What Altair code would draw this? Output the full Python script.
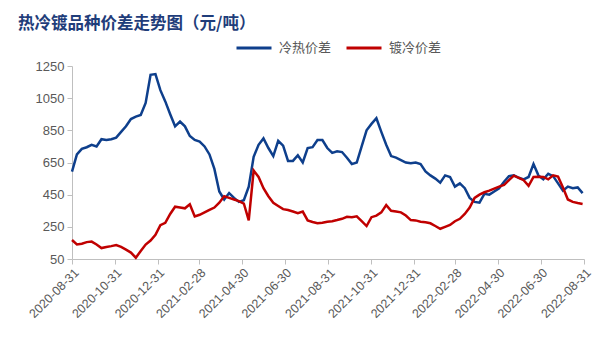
import altair as alt
import pandas as pd

# Weekly observations, 2020-08-31 .. 2022-08-29
start_date = "2020-08-31"
n_weeks = 105

cold_hot = [
    593, 700, 735, 745, 760, 750, 795, 790, 795, 805,
    840, 875, 920, 935, 945, 1020, 1195, 1200, 1100, 1030,
    950, 875, 905, 875, 815, 790, 780, 750, 700, 610,
    470, 420, 460, 430, 405, 415, 500, 685, 760, 800,
    740, 690, 785, 755, 660, 660, 695, 650, 740, 745,
    790, 790, 740, 710, 720, 715, 680, 640, 650, 750,
    850, 890, 925, 840, 760, 690, 680, 665, 650, 645,
    650, 640, 595, 570, 550, 525, 570, 560, 500, 520,
    490, 430, 405, 400, 455, 450, 470, 490, 530, 565,
    570, 555, 545, 560, 640, 570, 545, 580, 565, 520,
    475, 500, 490, 495, 460,
]

galv_cold = [
    168, 140, 145, 155, 158, 140, 118, 125, 130, 137,
    125, 108, 90, 58, 100, 140, 165, 200, 260, 275,
    330, 375, 370, 365, 390, 315, 325, 340, 355, 370,
    400, 440, 430, 420, 410, 395, 290, 600, 560, 490,
    440, 400, 380, 360, 355, 345, 335, 345, 290, 280,
    272, 275, 282, 285, 292, 300, 312, 310, 315, 285,
    255, 310, 320, 340, 385, 350, 345, 340, 320, 292,
    290, 282, 278, 272, 255, 238, 250, 262, 285, 300,
    330, 370, 430, 450, 465, 475, 488, 500, 510, 540,
    568, 555, 540, 505, 560, 562, 560, 545, 570, 562,
    495, 420, 405, 398, 392,
]

series_names = ["冷热价差", "镀冷价差"]
series_colors = ["#0E3F8C", "#C00000"]

tick_dates = [
    "2020-08-31", "2020-10-31", "2020-12-31", "2021-02-28", "2021-04-30",
    "2021-06-30", "2021-08-31", "2021-10-31", "2021-12-31", "2022-02-28",
    "2022-04-30", "2022-06-30", "2022-08-31",
]
y_ticks = [50, 250, 450, 650, 850, 1050, 1250]

dates = pd.date_range(start_date, periods=n_weeks, freq="7D")
df = pd.concat([
    pd.DataFrame({"date": dates, "value": cold_hot, "series": series_names[0]}),
    pd.DataFrame({"date": dates, "value": galv_cold, "series": series_names[1]}),
])

FONT = "Liberation Sans"
CJK = "Noto Sans CJK SC"
GRAY = "#595959"
AXIS = "#BFBFBF"

chart = alt.Chart(df).mark_line(strokeWidth=2.5).encode(
    x=alt.X(
        "date:T",
        scale=alt.Scale(domain=[
            alt.DateTime(year=2020, month=8, date=31),
            alt.DateTime(year=2022, month=8, date=31),
        ]),
        axis=alt.Axis(
            title=None,
            values=[alt.DateTime(year=int(d[:4]), month=int(d[5:7]), date=int(d[8:])) for d in tick_dates],
            format="%Y-%m-%d",
            labelAngle=-45,
            labelAlign="right",
            labelBaseline="top",
            labelFont=FONT,
            labelFontSize=12.5,
            labelColor=GRAY,
            labelPadding=2,
            domainColor=AXIS,
            tickColor=AXIS,
            tickSize=5,
            grid=False,
            labelOverlap=False,
        ),
    ),
    y=alt.Y(
        "value:Q",
        scale=alt.Scale(domain=[50, 1250], nice=False, zero=False),
        axis=alt.Axis(
            title=None,
            values=y_ticks,
            format="d",
            labelFont=FONT,
            labelFontSize=13,
            labelColor=GRAY,
            labelPadding=3,
            domainColor=AXIS,
            tickColor=AXIS,
            tickSize=5,
            grid=False,
        ),
    ),
    color=alt.Color(
        "series:N",
        scale=alt.Scale(domain=series_names, range=series_colors),
        sort=series_names,
        legend=alt.Legend(
            title=None,
            orient="none",
            direction="horizontal",
            legendX=163,
            legendY=-37,
            symbolType="stroke",
            symbolSize=1225,
            symbolStrokeWidth=3,
            labelFont=CJK,
            labelFontSize=13,
            labelColor=GRAY,
            labelOffset=6,
            columnPadding=8,
        ),
    ),
).properties(
    width=512,
    height=193,
    title=alt.TitleParams(
        text="热冷镀品种价差走势图（元/吨）",
        anchor="start",
        frame="group",
        dx=-54,
        dy=17,
        offset=14,
        font=CJK,
        fontSize=16.5,
        fontWeight="bold",
        color="#1F3D7A",
    ),
    autosize=alt.AutoSizeParams(type="none"),
    padding={"left": 72, "top": 66, "right": 16, "bottom": 97},
).configure_view(stroke=None)

chart.save("out.html", embed_options={"renderer": "svg", "actions": False})
